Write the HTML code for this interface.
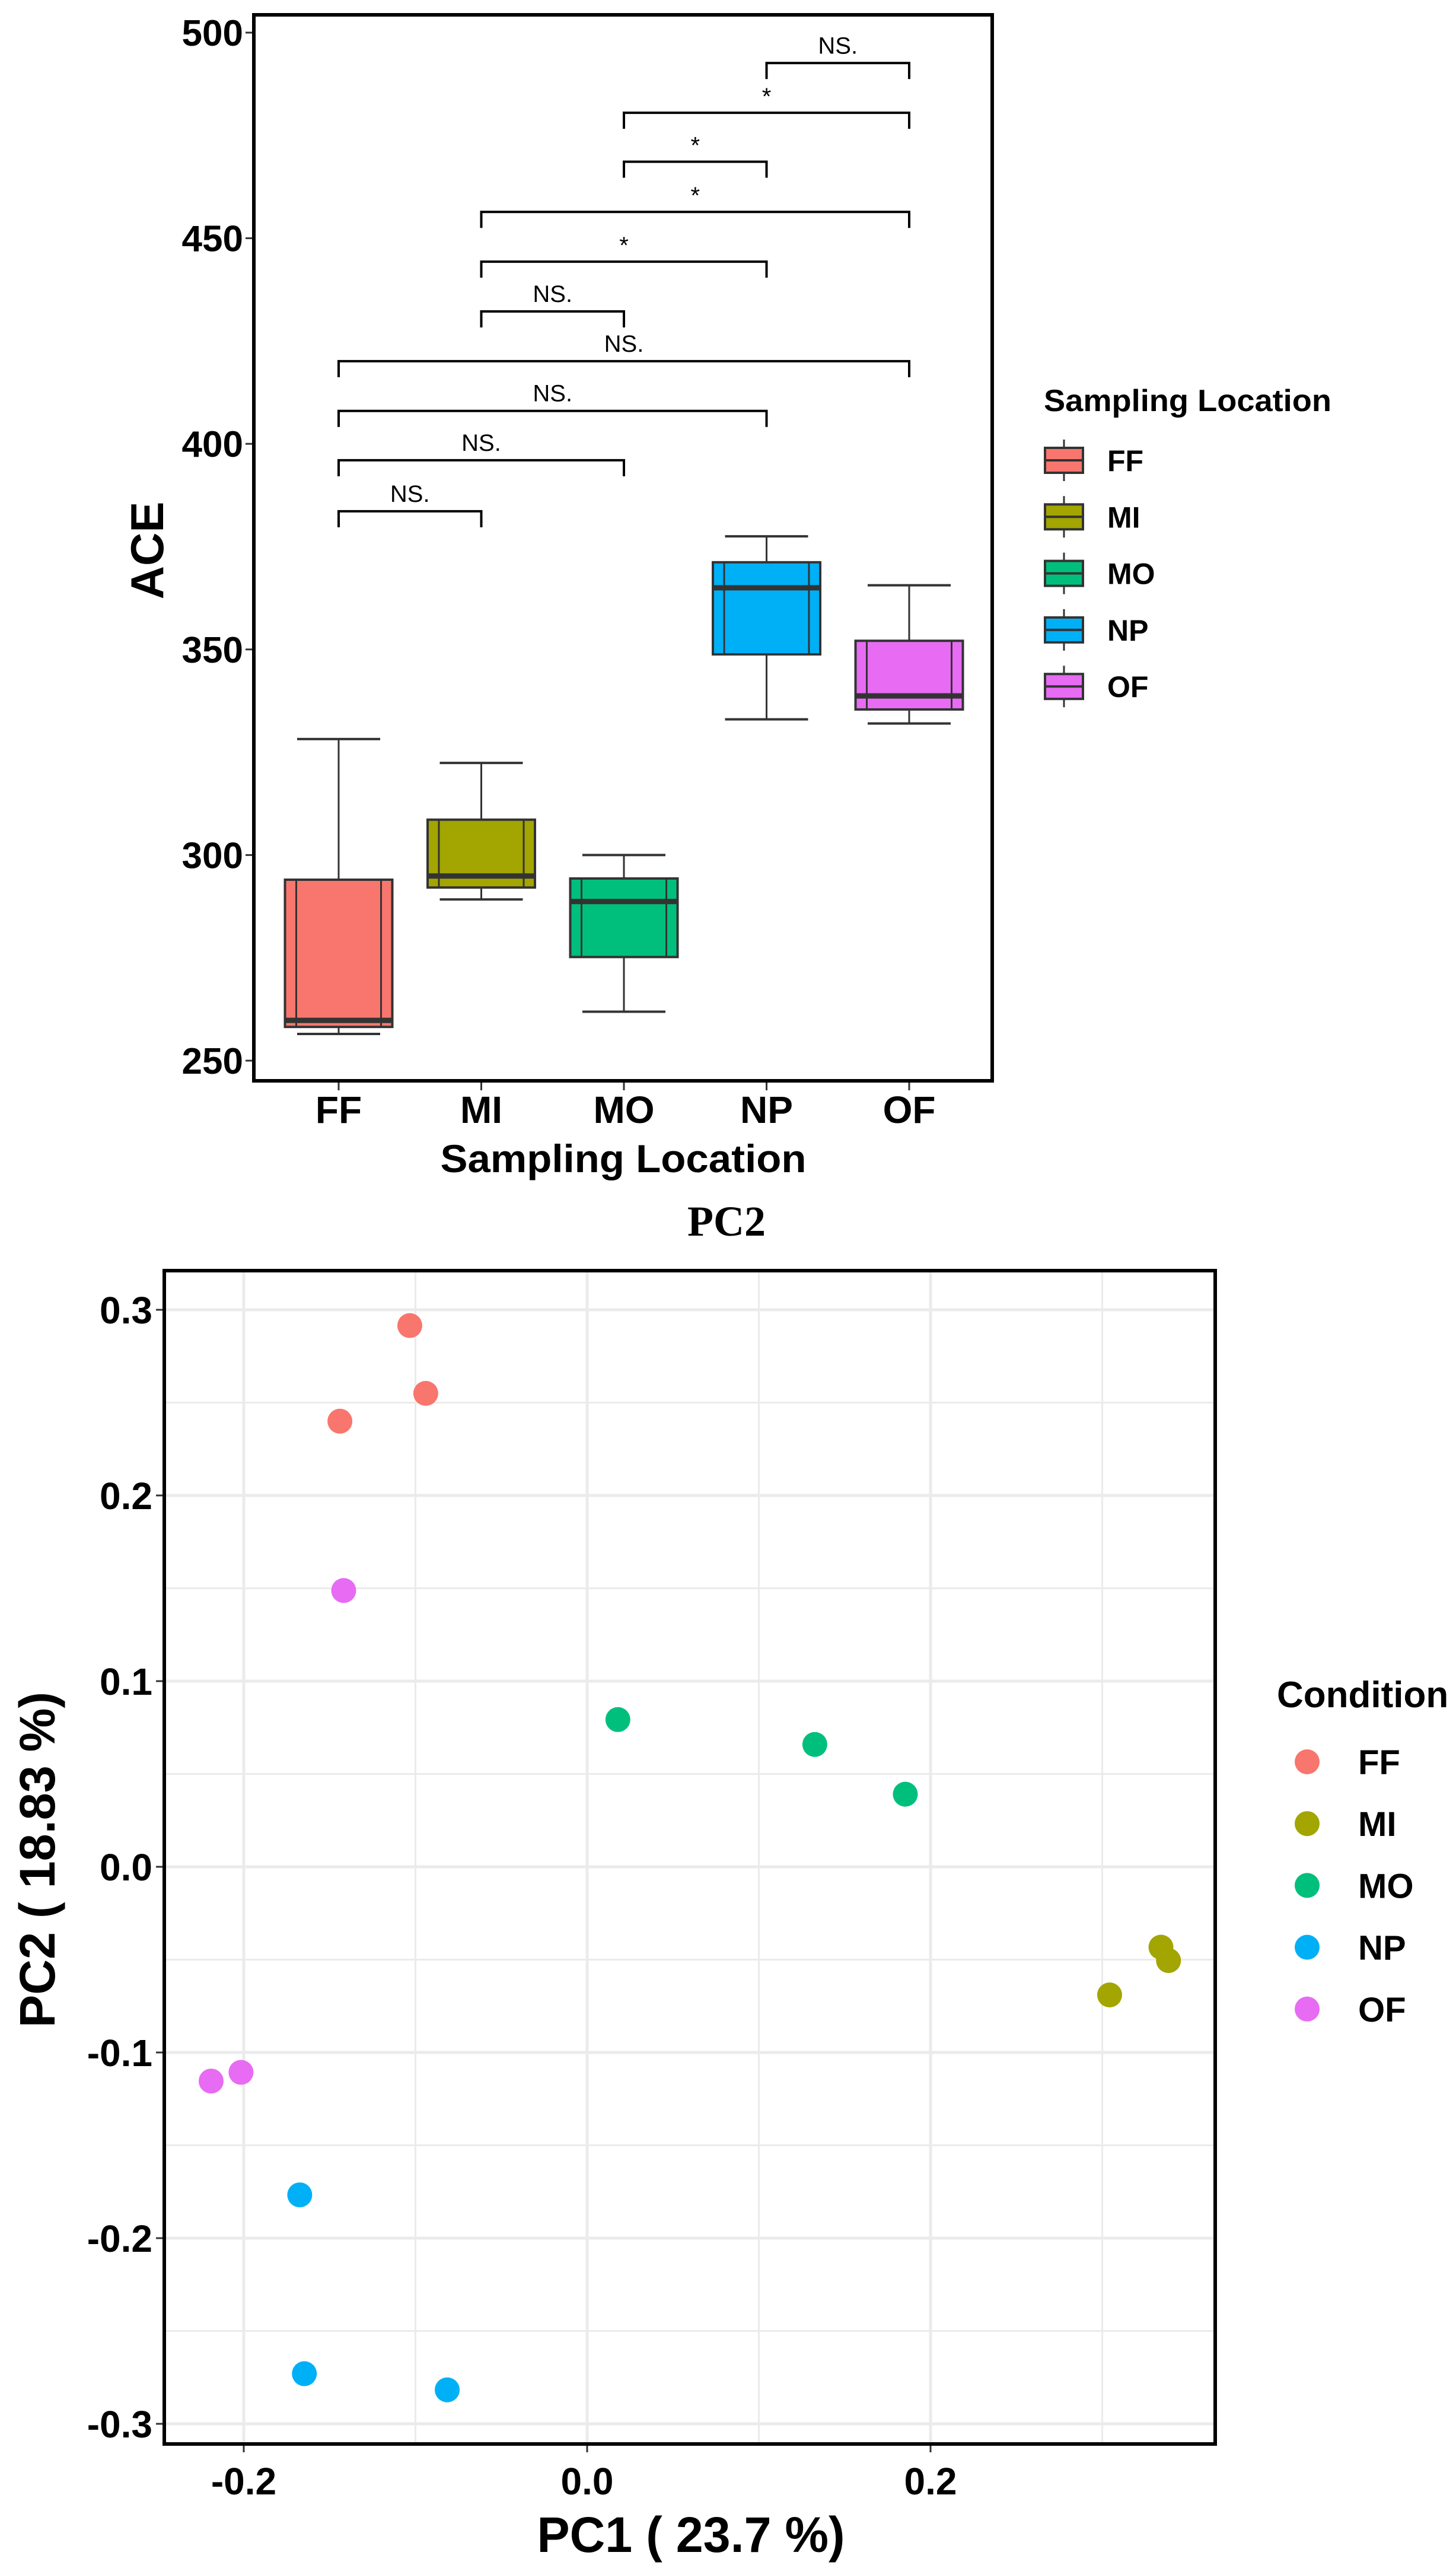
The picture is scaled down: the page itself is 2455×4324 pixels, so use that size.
<!DOCTYPE html>
<html><head><meta charset="utf-8"><style>
html,body{margin:0;padding:0;background:#fff;}
svg{display:block;font-family:"Liberation Sans",Arial,sans-serif;}
</style></head><body>
<svg id="fig" width="2455" height="4324" viewBox="0 0 2455 4324" xmlns="http://www.w3.org/2000/svg">
<rect width="2455" height="4324" fill="#fff"/>
<g id="top"></g>
<g id="bottom"></g>
</svg>
<script>
// ---- Box plot data ----
const groups = ["FF","MI","MO","NP","OF"];
const colors = ["#F8766D","#A3A500","#00BF7D","#00B0F6","#E76BF3"];
const whiskLow = [256.5,289.2,261.9,333,332];
const q1 = [258.2,292.1,275.2,348.8,335.4];
const med = [259.8,294.9,288.7,365,338.7];
const q3 = [294,308.6,294.3,371.2,352.1];
const whiskHigh = [328.2,322.4,300,377.5,365.6];
const aceTicks = [250,300,350,400,450,500];
const cmpA = [0,0,0,0,1,1,1,2,2,3];
const cmpB = [1,2,3,4,2,3,4,3,4,4];
const cmpY = [383.6,396,408,420.1,432.2,444.3,456.4,468.6,480.5,492.6];
const cmpLabel = ["NS.","NS.","NS.","NS.","NS.","*","*","*","*","NS."];
// ---- PCA data ----
const pcGroups = ["FF","FF","FF","OF","OF","OF","MO","MO","MO","MI","MI","MI","NP","NP","NP"];
const pc1 = [-0.1033,-0.094,-0.144,-0.1418,-0.2016,-0.219,0.0179,0.1326,0.1853,0.3342,0.3386,0.3043,-0.1674,-0.1647,-0.0815];
const pc2 = [0.2915,0.255,0.240,0.1488,-0.1107,-0.1154,0.0793,0.0659,0.0391,-0.0433,-0.0505,-0.069,-0.1767,-0.273,-0.2817];
const pc1Ticks = [-0.2,0.0,0.2];
const pc2Ticks = [-0.3,-0.2,-0.1,0.0,0.1,0.2,0.3];

const NS="http://www.w3.org/2000/svg";
function mk(parent,tag,attrs,text){const e=document.createElementNS(NS,tag);for(const k in attrs)e.setAttribute(k,attrs[k]);if(text!==undefined)e.textContent=text;parent.appendChild(e);return e;}

// ===== TOP =====
const T=document.getElementById('top');
const yA=v=>55+(500-v)*346.6/50;
const xA=i=>571+i*240.5;
const bw=181;
aceTicks.forEach(v=>{
  const t=mk(T,'text',{x:410,y:yA(v)+22,'text-anchor':'end','font-size':62,'font-weight':'bold'},v);
  
  
  mk(T,'line',{x1:414,x2:428,y1:yA(v),y2:yA(v),stroke:'#333','stroke-width':3});
});
groups.forEach((g,i)=>{
  const x=xA(i);
  const gg=mk(T,'g',{});
  
  
  mk(gg,'line',{x1:x,x2:x,y1:yA(whiskHigh[i]),y2:yA(q3[i]),stroke:'#333','stroke-width':3});
  mk(gg,'line',{x1:x,x2:x,y1:yA(q1[i]),y2:yA(whiskLow[i]),stroke:'#333','stroke-width':3});
  mk(gg,'line',{x1:x-70,x2:x+70,y1:yA(whiskHigh[i]),y2:yA(whiskHigh[i]),stroke:'#333','stroke-width':4});
  mk(gg,'line',{x1:x-70,x2:x+70,y1:yA(whiskLow[i]),y2:yA(whiskLow[i]),stroke:'#333','stroke-width':4});
  mk(gg,'rect',{x:x-bw/2,y:yA(q3[i]),width:bw,height:yA(q1[i])-yA(q3[i]),fill:colors[i],stroke:'#333','stroke-width':4});
  mk(gg,'line',{x1:x-bw/2+19,x2:x-bw/2+19,y1:yA(q3[i]),y2:yA(q1[i]),stroke:'#333','stroke-width':3});
  mk(gg,'line',{x1:x+bw/2-19,x2:x+bw/2-19,y1:yA(q3[i]),y2:yA(q1[i]),stroke:'#333','stroke-width':3});
  mk(gg,'line',{x1:x-bw/2,x2:x+bw/2,y1:yA(med[i]),y2:yA(med[i]),stroke:'#333','stroke-width':9});
  mk(T,'line',{x1:x,x2:x,y1:1823,y2:1838,stroke:'#333','stroke-width':3});
  const t=mk(T,'text',{x:x,y:1893,'text-anchor':'middle','font-size':64,'font-weight':'bold'},g);
  
  
});
cmpY.forEach((v,k)=>{
  const xa=xA(cmpA[k]),xb=xA(cmpB[k]),y=yA(v);
  const br=mk(T,'path',{d:`M${xa} ${y+27}V${y}H${xb}V${y+27}`,fill:'none',stroke:'#000','stroke-width':4});
  
  
  const t=mk(T,'text',{x:(xa+xb)/2,y:y-(cmpLabel[k]==='*'?14:16),'text-anchor':'middle','font-size':cmpLabel[k]==='*'?40:40},cmpLabel[k]);
  
  
});
const panelT=mk(T,'rect',{x:428,y:25,width:1245,height:1797,fill:'none',stroke:'#000','stroke-width':6});


let tt=mk(T,'text',{x:0,y:0,transform:'translate(275,928) rotate(-90)','text-anchor':'middle','font-size':78,'font-weight':'bold'},'ACE');


tt=mk(T,'text',{x:1051,y:1976,'text-anchor':'middle','font-size':66,'font-weight':'bold',textLength:617,lengthAdjust:'spacingAndGlyphs'},'Sampling Location');


tt=mk(T,'text',{x:1760,y:693,'font-size':52,'font-weight':'bold',textLength:485,lengthAdjust:'spacingAndGlyphs'},'Sampling Location');


groups.forEach((g,i)=>{
  const cy=776+i*95.3;
  const le=mk(T,'g',{});
  
  
  mk(le,'line',{x1:1794,x2:1794,y1:cy-35,y2:cy+35,stroke:'#333','stroke-width':3});
  mk(le,'rect',{x:1762,y:cy-21,width:64,height:42,fill:colors[i],stroke:'#333','stroke-width':4});
  mk(le,'line',{x1:1762,x2:1826,y1:cy,y2:cy,stroke:'#333','stroke-width':4});
  mk(le,'text',{x:1867,y:cy+18,'font-size':50,'font-weight':'bold'},g);
});

// ===== BOTTOM =====
const B=document.getElementById('bottom');
const px=v=>990+v*2895;
const py=v=>3147-v*3130;
tt=mk(B,'text',{x:1225,y:2083,'text-anchor':'middle','font-size':72,'font-weight':'bold','font-family':'"Liberation Serif",serif'},'PC2');


const L=277,R=2049,TP=2142,BT=4120;
// minor grid
for(let v=-0.35;v<=0.351;v+=0.1){const y=py(v);if(y>TP&&y<BT)mk(B,'line',{x1:L,x2:R,y1:y,y2:y,stroke:'#EBEBEB','stroke-width':3});}
for(let v=-0.3;v<=0.31;v+=0.2){const x=px(v);if(x>L&&x<R)mk(B,'line',{x1:x,x2:x,y1:TP,y2:BT,stroke:'#EBEBEB','stroke-width':3});}
pc2Ticks.forEach(v=>{
  mk(B,'line',{x1:L,x2:R,y1:py(v),y2:py(v),stroke:'#EBEBEB','stroke-width':5});
  mk(B,'line',{x1:L-14,x2:L,y1:py(v),y2:py(v),stroke:'#333','stroke-width':3});
  const t=mk(B,'text',{x:L-20,y:py(v)+23,'text-anchor':'end','font-size':64,'font-weight':'bold'},v.toFixed(1));
  
  
});
pc1Ticks.forEach(v=>{
  mk(B,'line',{x1:px(v),x2:px(v),y1:TP,y2:BT,stroke:'#EBEBEB','stroke-width':5});
  mk(B,'line',{x1:px(v),x2:px(v),y1:BT,y2:BT+14,stroke:'#333','stroke-width':3});
  const t=mk(B,'text',{x:px(v),y:4205,'text-anchor':'middle','font-size':64,'font-weight':'bold'},v.toFixed(1));
  
  
});
pc1.forEach((v,i)=>{
  const c=mk(B,'circle',{cx:px(v),cy:py(pc2[i]),r:21,fill:colors[groups.indexOf(pcGroups[i])]});
  
  
});
const panelB=mk(B,'rect',{x:L,y:TP,width:R-L,height:BT-TP,fill:'none',stroke:'#000','stroke-width':6});


tt=mk(B,'text',{x:1165,y:4302,'text-anchor':'middle','font-size':84,'font-weight':'bold',textLength:519,lengthAdjust:'spacingAndGlyphs'},'PC1 ( 23.7 %)');


tt=mk(B,'text',{x:0,y:0,transform:'translate(92,3135) rotate(-90)','text-anchor':'middle','font-size':84,'font-weight':'bold',textLength:566,lengthAdjust:'spacingAndGlyphs'},'PC2 ( 18.83 %)');


tt=mk(B,'text',{x:2153,y:2878,'font-size':62,'font-weight':'bold'},'Condition');


groups.forEach((g,i)=>{
  const cy=2970+i*104.2;
  const le=mk(B,'g',{});
  
  
  mk(le,'circle',{cx:2204,cy:cy,r:21,fill:colors[i]});
  mk(le,'text',{x:2290,y:cy+21,'font-size':58,'font-weight':'bold'},g);
});
</script>
</body></html>
